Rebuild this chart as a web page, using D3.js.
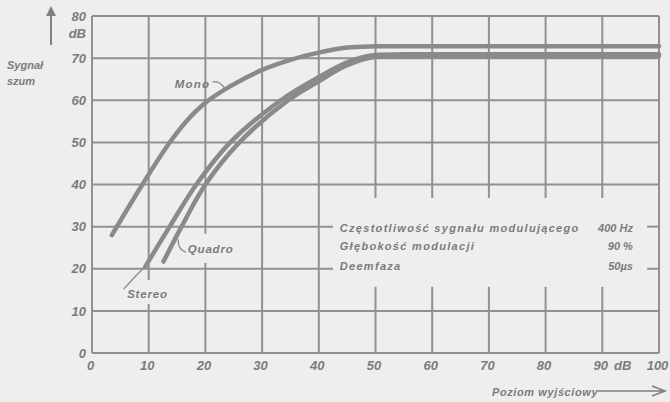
<!DOCTYPE html>
<html>
<head>
<meta charset="utf-8">
<script src="https://cdn.jsdelivr.net/npm/d3@7"></script>
<style>
body { margin: 0; background: #eeeeee; }
svg { display: block; }
text { font-family: "Liberation Sans", Arial, sans-serif; font-style: italic; font-weight: bold; fill: #7b7b7b; }
</style>
</head>
<body>
<div id="chart"></div>
<script>
// poziom wyjsciowy (dB) / sygnal-szum (dB)
var levelTicks = [0, 10, 20, 30, 40, 50, 60, 70, 80, 90, 100];
var snrTicks = [0, 10, 20, 30, 40, 50, 60, 70, 80];

var monoLevel = [3.5, 8.7, 13.3, 16.5, 20, 24.5, 30, 35, 40, 45, 50, 60, 100];
var monoSnr   = [28, 39.6, 49.2, 54.8, 59.4, 63.4, 67.2, 69.6, 71.3, 72.5, 72.8, 72.8, 72.8];

var stereoLevel = [9.4, 13.7, 18.4, 24.4, 33.3, 40, 45, 49, 55, 65, 100];
var stereoSnr   = [20.5, 30, 40, 50, 60, 65.5, 69, 70.6, 70.9, 70.9, 70.9];

var quadroLevel = [12.6, 15.8, 20.0, 26.0, 34.6, 40, 45, 50, 56, 65, 100];
var quadroSnr   = [21.7, 30, 40, 50, 60, 64.5, 68.3, 70.3, 70.5, 70.5, 70.5];

// breaks in the grid where the lettering sits
var noteGapLevels = [50, 60, 70, 80, 90];
var noteGapSnr = [15.7, 36.8];
var noteGapRows = [20, 30];
var noteGapLevel = [42.5, 97.9];
var stereoGap = [11.6, 17.3];
var quadroGap = [21.4, 28.3];

var notes = [
  ["Częstotliwość  sygnału  modulującego", "400 Hz"],
  ["Głębokość  modulacji", "90 %"],
  ["Deemfaza", "50µs"]
];

var width = 670, height = 402;

var svg = d3.select("#chart").append("svg")
    .attr("width", width)
    .attr("height", height);

var x = d3.scaleLinear().domain([0, 100]).range([92, 659]);
var y = d3.scaleLinear().domain([0, 80]).range([353, 16]);

var gridColor = "#909090";
var grid = svg.append("g")
    .attr("stroke", gridColor)
    .attr("stroke-width", 2)
    .attr("fill", "none");

function vSegs(l) {
  var gaps = [];
  if (noteGapLevels.indexOf(l) >= 0) gaps.push(noteGapSnr);
  if (l == 10) gaps.push(stereoGap);
  if (l == 20) gaps.push(quadroGap);
  var segs = [], from = 0;
  gaps.forEach(function(g) { segs.push([from, g[0]]); from = g[1]; });
  segs.push([from, 80]);
  return segs;
}

levelTicks.forEach(function(l) {
  vSegs(l).forEach(function(s) {
    grid.append("line")
      .attr("x1", x(l)).attr("x2", x(l))
      .attr("y1", y(s[0])).attr("y2", y(s[1]));
  });
});

snrTicks.forEach(function(v) {
  var segs = noteGapRows.indexOf(v) >= 0
    ? [[0, noteGapLevel[0]], [noteGapLevel[1], 100]]
    : [[0, 100]];
  segs.forEach(function(s) {
    grid.append("line")
      .attr("x1", x(s[0])).attr("x2", x(s[1]))
      .attr("y1", y(v)).attr("y2", y(v));
  });
});

// curves
var line = d3.line()
    .x(function(d) { return x(d[0]); })
    .y(function(d) { return y(d[1]); })
    .curve(d3.curveCatmullRom.alpha(0.5));

var series = [
  [monoLevel, monoSnr],
  [stereoLevel, stereoSnr],
  [quadroLevel, quadroSnr]
];

series.forEach(function(s) {
  svg.append("path")
    .datum(d3.zip(s[0], s[1]))
    .attr("d", line)
    .attr("fill", "none")
    .attr("stroke", "#8a8a8a")
    .attr("stroke-width", 4.5)
    .attr("stroke-linecap", "round");
});

// axis labels
var yAxis = d3.axisLeft(y).tickValues(snrTicks).tickSize(0).tickPadding(6);
var gy = svg.append("g").attr("transform", "translate(" + x(0) + ",0)").call(yAxis);
var xAxis = d3.axisBottom(x).tickValues(levelTicks).tickSize(0).tickPadding(8);
var gx = svg.append("g").attr("transform", "translate(-2," + y(0) + ")").call(xAxis);

[gx, gy].forEach(function(g) {
  g.select(".domain").remove();
  g.selectAll("text")
    .attr("font-family", null)
    .style("font-size", "13px")
    .style("fill", "#7b7b7b");
});

svg.append("text").attr("x", x(0) - 6).attr("y", y(76) + 5)
  .attr("text-anchor", "end").style("font-size", "13px").text("dB");
svg.append("text").attr("x", x(93.6)).attr("y", y(0) + 17)
  .attr("text-anchor", "middle").style("font-size", "13px").text("dB");

// axis titles
svg.append("text").attr("x", 7).attr("y", 69).style("font-size", "11px").text("Sygnał");
svg.append("text").attr("x", 7).attr("y", 85).style("font-size", "11px").text("szum");
svg.append("line").attr("x1", 51).attr("x2", 51).attr("y1", 45).attr("y2", 14)
  .attr("stroke", "#808080").attr("stroke-width", 2);
svg.append("path").attr("d", "M46,16 L51,6 L56,16 Z").attr("fill", "#808080");

svg.append("text").attr("x", 492).attr("y", 396).style("font-size", "11px")
  .style("letter-spacing", "0.6px").text("Poziom  wyjściowy");
svg.append("path").attr("d", "M598,391 L664,391 M652,386 L665,391 L652,396")
  .attr("fill", "none").attr("stroke", "#808080").attr("stroke-width", 1.6);

// curve labels
function leader(p) {
  svg.append("path")
    .attr("d", "M" + x(p[0]) + "," + y(p[1]) + " Q" + x(p[2]) + "," + y(p[3]) + " " + x(p[4]) + "," + y(p[5]))
    .attr("fill", "none").attr("stroke", "#8a8a8a").attr("stroke-width", 1.3);
}
svg.append("text").attr("x", x(14.6)).attr("y", y(63)).style("font-size", "11.5px")
  .style("letter-spacing", "1.2px").text("Mono");
leader([21.3, 64.3, 22.3, 64.8, 23.4, 62.9]);

svg.append("text").attr("x", x(6.2)).attr("y", y(13)).style("font-size", "11.5px")
  .style("letter-spacing", "0.8px").text("Stereo");
leader([5.6, 15.2, 7.3, 17.8, 9.2, 20.3]);

svg.append("text").attr("x", x(16.9)).attr("y", y(23.7)).style("font-size", "11.5px")
  .style("letter-spacing", "0.8px").text("Quadro");
leader([15.2, 27.0, 15.1, 24.5, 16.6, 23.9]);

// notes
var noteY = [28.7, 24.4, 19.8];
notes.forEach(function(n, i) {
  svg.append("text").attr("x", x(43.7)).attr("y", y(noteY[i]))
    .style("font-size", "11px").style("letter-spacing", "1.3px").text(n[0]);
  svg.append("text").attr("x", x(95.4)).attr("y", y(noteY[i]))
    .attr("text-anchor", "end").style("font-size", "11px").text(n[1]);
});
</script>
</body>
</html>
